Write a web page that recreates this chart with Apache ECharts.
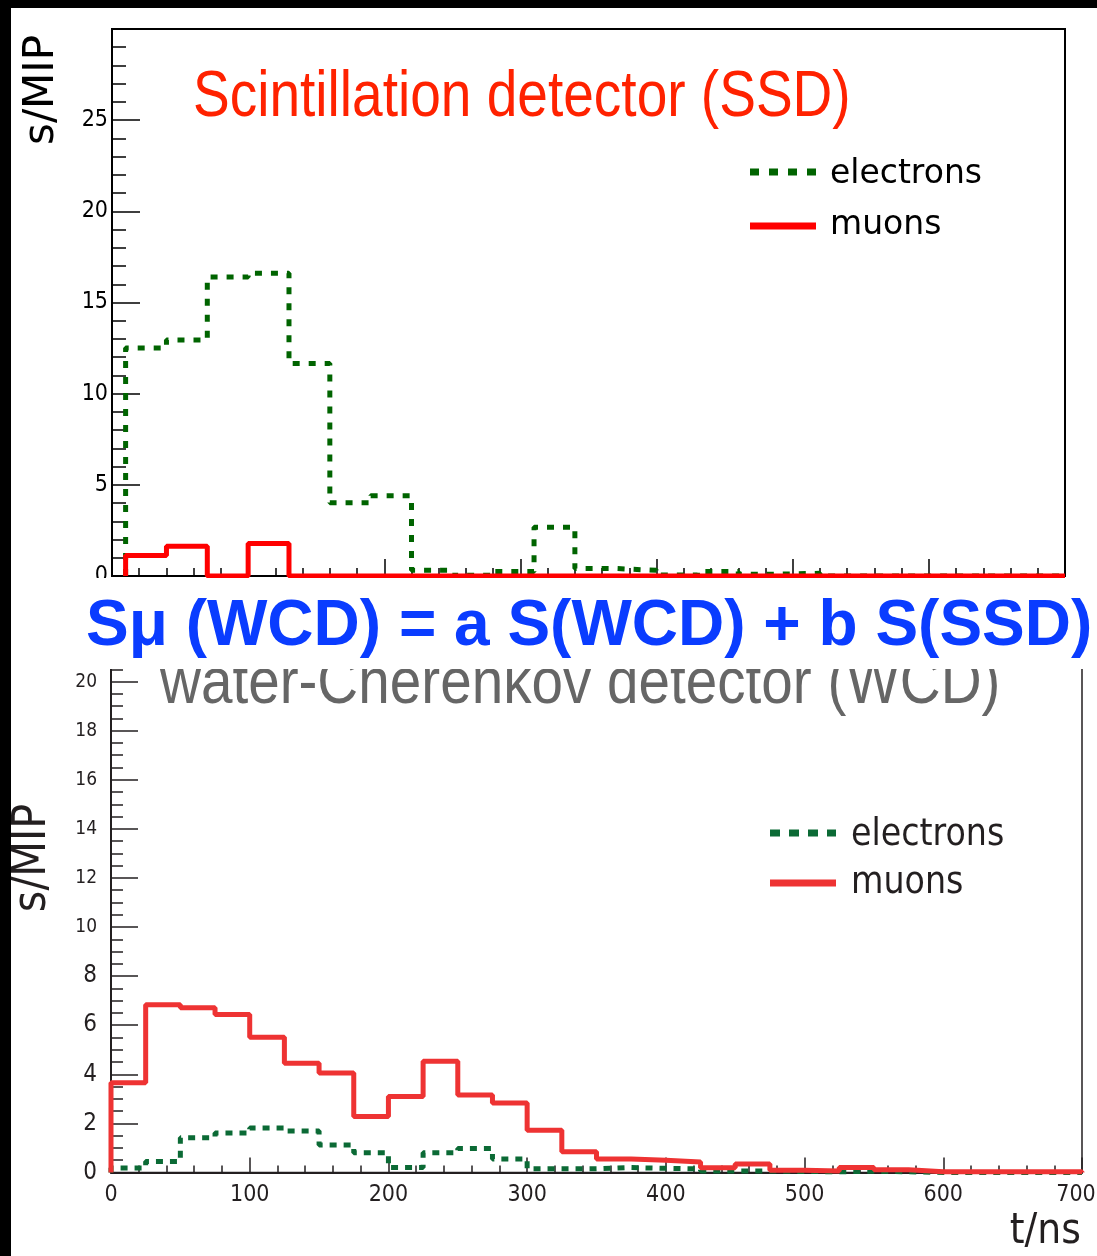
<!DOCTYPE html>
<html>
<head>
<meta charset="utf-8">
<script src="https://cdn.jsdelivr.net/npm/echarts@6/dist/echarts.min.js"></script>
<style>
  html, body { margin: 0; padding: 0; background: #fff; }
  #chart { width: 1097px; height: 1256px; }
</style>
</head>
<body>
<div id="chart"></div>
<script>
// ---------------- data ----------------
// Top panel: Scintillation detector (SSD), 30 ns bins starting at 10 ns
const ssdBinStart = 10;
const ssdBinWidth = 30;
const ssdElectrons = [12.5, 12.95, 16.4, 16.6, 11.65, 4.02, 4.4, 0.31, 0.04, 0.25, 2.68, 0.41, 0.31, 0.05, 0.24, 0.10, 0.15, 0, 0, 0, 0, 0, 0];
const ssdMuons     = [1.12, 1.63, 0, 1.78, 0, 0, 0, 0, 0, 0, 0, 0, 0, 0, 0, 0, 0, 0, 0, 0, 0, 0, 0];

// Bottom panel: water-Cherenkov detector (WCD), 25 ns bins starting at 0 ns
const wcdBinStart = 0;
const wcdBinWidth = 25;
const wcdElectrons = [0.18, 0.45, 1.42, 1.61, 1.81, 1.69, 1.12, 0.80, 0.20, 0.80, 0.98, 0.55, 0.15, 0.15, 0.20, 0.17, 0.15, 0.06, 0.06, 0.04, 0.03, 0.05, 0.03, 0, 0, 0, 0, 0];
const wcdMuons     = [3.66, 6.83, 6.71, 6.44, 5.51, 4.45, 4.05, 2.28, 3.10, 4.53, 3.16, 2.83, 1.72, 0.85, 0.55, 0.50, 0.43, 0.19, 0.35, 0.09, 0.06, 0.20, 0.11, 0.03, 0.03, 0.03, 0.03, 0.03];

const seriesNames = ['electrons', 'muons'];
const titleSSD = 'Scintillation detector (SSD)';
const titleWCD = 'water-Cherenkov detector (WCD)';
const formulaText = 'Sμ (WCD) = a S(WCD) + b S(SSD)';
const yTitle = 's/MIP';
const xTitle = 't/ns';

// ---------------- helpers ----------------
function histPoints(start, width, values) {
  const pts = [[start, 0]];
  values.forEach(function (v, i) { pts.push([start + i * width, v]); });
  pts.push([start + values.length * width, 0]);
  return pts;
}

const chart = echarts.init(document.getElementById('chart'), null, { renderer: 'canvas' });

const option = {
  animation: false,
  backgroundColor: '#ffffff',
  grid: [
    { left: 112, top: 29, width: 953, height: 547, show: true, borderColor: '#000', borderWidth: 2, backgroundColor: 'transparent', containLabel: false, outerBoundsMode: 'none' },
    { left: 111, top: 632.5, width: 971, height: 540, show: true, borderColor: '#231f20', borderWidth: 1.5, backgroundColor: 'transparent', containLabel: false, outerBoundsMode: 'none' }
  ],
  xAxis: [
    {
      gridIndex: 0, type: 'value', min: 0, max: 700, interval: 100,
      axisLine: { show: true, onZero: false, lineStyle: { color: '#000', width: 2 } },
      axisTick: { show: true, inside: true, length: 17, lineStyle: { color: '#000', width: 1.5 } },
      minorTick: { show: true, splitNumber: 5, length: 8, lineStyle: { color: '#000', width: 1.5 } },
      axisLabel: { show: false },
      splitLine: { show: false }
    },
    {
      gridIndex: 1, type: 'value', min: 0, max: 700, interval: 100,
      axisLine: { show: true, onZero: false, lineStyle: { color: '#231f20', width: 2 } },
      axisTick: { show: true, inside: true, length: 15, lineStyle: { color: '#231f20', width: 1.5 } },
      minorTick: { show: true, splitNumber: 5, length: 7, lineStyle: { color: '#231f20', width: 1.5 } },
      axisLabel: {
        show: true, margin: 11, color: '#231f20', fontFamily: 'DejaVu Sans Condensed', fontSize: 23, hideOverlap: false,
        formatter: function (v) { return v === 700 ? '{m|' + v + '}' : String(v); },
        rich: { m: { fontSize: 23, fontFamily: 'DejaVu Sans Condensed', color: '#231f20', padding: [0, 12, 0, 0] } }
      },
      splitLine: { show: false }
    }
  ],
  yAxis: [
    {
      gridIndex: 0, type: 'value', min: 0, max: 30, interval: 5,
      axisLine: { show: true, onZero: false, lineStyle: { color: '#000', width: 2 } },
      axisTick: { show: true, inside: true, length: 28, lineStyle: { color: '#000', width: 1.5 } },
      minorTick: { show: true, splitNumber: 5, length: 14, lineStyle: { color: '#000', width: 1.5 } },
      axisLabel: { show: true, margin: 4, color: '#000', fontFamily: 'DejaVu Sans Condensed', fontSize: 23, showMaxLabel: false },
      splitLine: { show: false }
    },
    {
      gridIndex: 1, type: 'value', min: 0, max: 22, interval: 2,
      axisLine: { show: true, onZero: false, lineStyle: { color: '#231f20', width: 2 } },
      axisTick: { show: true, inside: true, length: 27, lineStyle: { color: '#231f20', width: 1.5 } },
      minorTick: { show: true, splitNumber: 4, length: 12, lineStyle: { color: '#231f20', width: 1.5 } },
      axisLabel: {
        show: true, margin: 14, color: '#231f20', fontFamily: 'DejaVu Sans Condensed', showMaxLabel: false,
        formatter: function (v) { return v < 10 ? '{b|' + v + '}' : '{s|' + v + '}'; },
        rich: {
          b: { fontSize: 24, fontFamily: 'DejaVu Sans Condensed', color: '#231f20' },
          s: { fontSize: 19, fontFamily: 'DejaVu Sans Condensed', color: '#231f20' }
        }
      },
      splitLine: { show: false }
    }
  ],
  series: [
    {
      name: seriesNames[0], type: 'line', xAxisIndex: 0, yAxisIndex: 0, step: 'end', symbol: 'none',
      data: histPoints(ssdBinStart, ssdBinWidth, ssdElectrons),
      lineStyle: { color: '#006400', width: 5, type: [7, 9], cap: 'butt' }, z: 3
    },
    {
      name: seriesNames[1], type: 'line', xAxisIndex: 0, yAxisIndex: 0, step: 'end', symbol: 'none',
      data: histPoints(ssdBinStart, ssdBinWidth, ssdMuons),
      lineStyle: { color: '#ff0000', width: 5, type: 'solid' }, z: 4
    },
    {
      name: seriesNames[0], type: 'line', xAxisIndex: 1, yAxisIndex: 1, step: 'end', symbol: 'none',
      data: histPoints(wcdBinStart, wcdBinWidth, wcdElectrons),
      lineStyle: { color: '#0b6a35', width: 5, type: [7, 7], cap: 'butt' }, z: 3
    },
    {
      name: seriesNames[1], type: 'line', xAxisIndex: 1, yAxisIndex: 1, step: 'end', symbol: 'none',
      data: histPoints(wcdBinStart, wcdBinWidth, wcdMuons),
      lineStyle: { color: '#ee3333', width: 5, type: 'solid' }, z: 4
    }
  ],
  graphic: [
    // gray WCD title (partly hidden by the white band)
    { type: 'text', x: 160, y: 685, z: 5, scaleX: 0.885, originX: 0, originY: 0,
      style: { text: titleWCD, fill: '#666666', font: '64px "Liberation Sans"', textAlign: 'left', textVerticalAlign: 'middle' } },
    // white band between panels
    { type: 'rect', z: 50, shape: { x: 11, y: 578, width: 1086, height: 91 }, style: { fill: '#ffffff' } },
    // blue formula
    { type: 'text', x: 86, y: 627, z: 60,
      style: { text: formulaText, fill: '#0a3cff', font: 'bold 64px "Liberation Sans"', textAlign: 'left', textVerticalAlign: 'middle' } },
    // red SSD title
    { type: 'text', x: 193, y: 98, z: 20, scaleX: 0.86, originX: 0, originY: 0,
      style: { text: titleSSD, fill: '#ff2200', font: '64px "Liberation Sans"', textAlign: 'left', textVerticalAlign: 'middle' } },
    // y titles
    { type: 'text', x: 42, y: 90, z: 20, rotation: Math.PI / 2,
      style: { text: yTitle, fill: '#000', font: '42px "DejaVu Sans"', textAlign: 'center', textVerticalAlign: 'middle' } },
    { type: 'text', x: 33, y: 858, z: 20, rotation: Math.PI / 2,
      style: { text: yTitle, fill: '#231f20', font: '46px "DejaVu Sans Condensed"', textAlign: 'center', textVerticalAlign: 'middle' } },
    // x title
    { type: 'text', x: 1081, y: 1232, z: 20,
      style: { text: xTitle, fill: '#231f20', font: '42px "DejaVu Sans Condensed"', textAlign: 'right', textVerticalAlign: 'middle' } },
    // top legend
    { type: 'line', z: 20, shape: { x1: 750, y1: 172, x2: 816, y2: 172 }, style: { stroke: '#006400', lineWidth: 7, lineDash: [9, 10] } },
    { type: 'text', x: 830, y: 174, z: 20, style: { text: seriesNames[0], fill: '#000', font: '33px "DejaVu Sans"', textAlign: 'left', textVerticalAlign: 'middle' } },
    { type: 'line', z: 20, shape: { x1: 750, y1: 226, x2: 816, y2: 226 }, style: { stroke: '#ff0000', lineWidth: 7 } },
    { type: 'text', x: 830, y: 225, z: 20, style: { text: seriesNames[1], fill: '#000', font: '33px "DejaVu Sans"', textAlign: 'left', textVerticalAlign: 'middle' } },
    // bottom legend
    { type: 'line', z: 20, shape: { x1: 770, y1: 833, x2: 836, y2: 833 }, style: { stroke: '#0b6a35', lineWidth: 7, lineDash: [10, 9] } },
    { type: 'text', x: 851, y: 835, z: 20, style: { text: seriesNames[0], fill: '#231f20', font: '37px "DejaVu Sans Condensed"', textAlign: 'left', textVerticalAlign: 'middle' } },
    { type: 'line', z: 20, shape: { x1: 770, y1: 883, x2: 836, y2: 883 }, style: { stroke: '#ee3333', lineWidth: 7 } },
    { type: 'text', x: 851, y: 883, z: 20, style: { text: seriesNames[1], fill: '#231f20', font: '37px "DejaVu Sans Condensed"', textAlign: 'left', textVerticalAlign: 'middle' } },
    // black borders (top and left)
    { type: 'rect', z: 100, shape: { x: 0, y: 0, width: 1097, height: 8 }, style: { fill: '#000' } },
    { type: 'rect', z: 100, shape: { x: 0, y: 0, width: 11, height: 1256 }, style: { fill: '#000' } }
  ]
};

chart.setOption(option);
</script>
</body>
</html>
